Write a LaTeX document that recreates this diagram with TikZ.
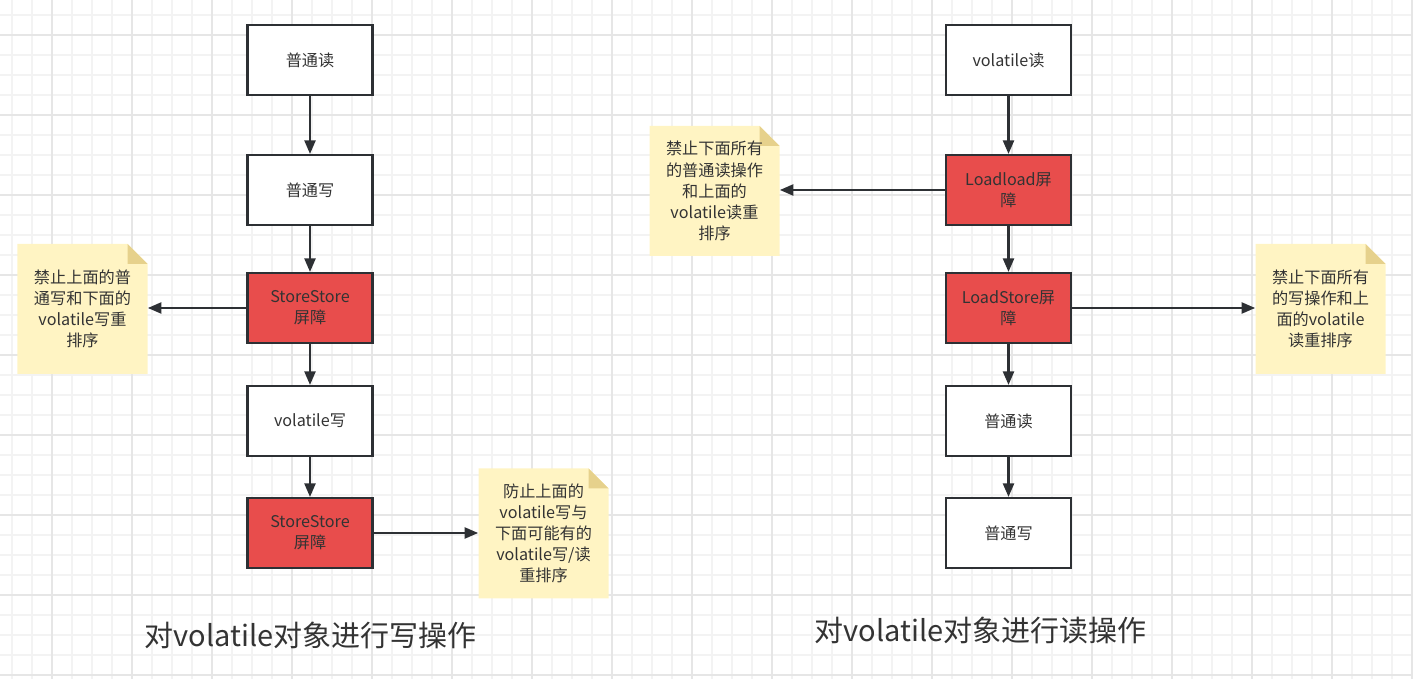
\documentclass[tikz,border=0pt]{standalone}
\usepackage{fontspec}
\setmainfont{Noto Sans CJK SC}
\usetikzlibrary{arrows.meta}

\definecolor{barrier}{RGB}{232,77,76}
\definecolor{notebg}{RGB}{255,244,195}
\definecolor{notefold}{RGB}{230,209,140}
\definecolor{edge}{RGB}{45,48,52}
\definecolor{txt}{RGB}{51,51,51}
\definecolor{gridminor}{RGB}{243,243,243}
\definecolor{gridmajor}{RGB}{230,230,230}

\begin{document}
\begin{tikzpicture}[
  op/.style={rectangle, draw=edge, line width=1.2pt, fill=white,
             minimum width=2.5cm, minimum height=1.4cm, inner sep=2pt,
             font=\fontsize{9.2}{12}\selectfont, text=txt, align=center},
  fence/.style={op, fill=barrier},
  note/.style={rectangle, minimum width=2.6cm, minimum height=2.6cm, inner sep=0pt,
               font=\fontsize{9.2}{12}\selectfont, text=txt, align=center,
               path picture={
                 \fill[notebg] (path picture bounding box.south west)
                   -- (path picture bounding box.south east)
                   -- ([yshift=-0.4cm]path picture bounding box.north east)
                   -- ([xshift=-0.4cm]path picture bounding box.north east)
                   -- (path picture bounding box.north west) -- cycle;
                 \fill[notefold] ([xshift=-0.4cm]path picture bounding box.north east)
                   -- ([shift={(-0.4cm,-0.4cm)}]path picture bounding box.north east)
                   -- ([yshift=-0.4cm]path picture bounding box.north east) -- cycle;}},
  flow/.style={-{Triangle[length=0.27cm, width=0.22cm]}, line width=1.25pt, draw=edge},
  caption/.style={font=\fontsize{16.5}{20}\selectfont, text=txt}
]

\useasboundingbox (0,0) rectangle (28.26,-13.58);

% background grid
\foreach \x in {0.24,0.64,...,28.3} \draw[gridminor, line width=0.6pt] (\x,0) -- (\x,-13.58);
\foreach \y in {-0.3,-0.7,...,-13.6} \draw[gridminor, line width=0.6pt] (0,\y) -- (28.26,\y);
\foreach \x in {1.04,2.64,...,28.3} \draw[gridmajor, line width=0.6pt] (\x,0) -- (\x,-13.58);
\foreach \y in {-0.7,-2.3,...,-13.6} \draw[gridmajor, line width=0.6pt] (0,\y) -- (28.26,\y);

% volatile write
\node[op]    (w1) at (6.2, -1.2)  {普通读};
\node[op]    (w2) at (6.2, -3.8)  {普通写};
\node[fence] (w3) at (6.2, -6.16) {StoreStore\\屏障};
\node[op]    (w4) at (6.2, -8.42) {volatile写};
\node[fence] (w5) at (6.2, -10.66) {StoreStore\\屏障};

\node[note] (wn1) at (1.65, -6.18)  {禁止上面的普\\通写和下面的\\volatile写重\\排序};
\node[note] (wn2) at (10.87, -10.67) {防止上面的\\volatile写与\\下面可能有的\\volatile写/读\\重排序};

\draw[flow] (w1) -- (w2);
\draw[flow] (w2) -- (w3);
\draw[flow] (w3) -- (w4);
\draw[flow] (w4) -- (w5);
\draw[flow] (w3.west) -- (w3.west -| wn1.east);
\draw[flow] (w5.east) -- (w5.east -| wn2.west);

\node[caption] (wt) at (6.21, -12.7) {对volatile对象进行写操作};

% volatile read
\node[op]    (r1) at (20.17, -1.2)  {volatile读};
\node[fence] (r2) at (20.17, -3.8)  {Loadload屏\\障};
\node[fence] (r3) at (20.17, -6.16) {LoadStore屏\\障};
\node[op]    (r4) at (20.17, -8.42) {普通读};
\node[op]    (r5) at (20.17, -10.66) {普通写};

\node[note] (rn1) at (14.29, -3.82) {禁止下面所有\\的普通读操作\\和上面的\\volatile读重\\排序};
\node[note] (rn2) at (26.41, -6.18) {禁止下面所有\\的写操作和上\\面的volatile\\读重排序};

\draw[flow] (r1) -- (r2);
\draw[flow] (r2) -- (r3);
\draw[flow] (r3) -- (r4);
\draw[flow] (r4) -- (r5);
\draw[flow] (r2.west) -- (r2.west -| rn1.east);
\draw[flow] (r3.east) -- (r3.east -| rn2.west);

\node[caption] (rt) at (19.61, -12.6) {对volatile对象进行读操作};

\end{tikzpicture}
\end{document}
